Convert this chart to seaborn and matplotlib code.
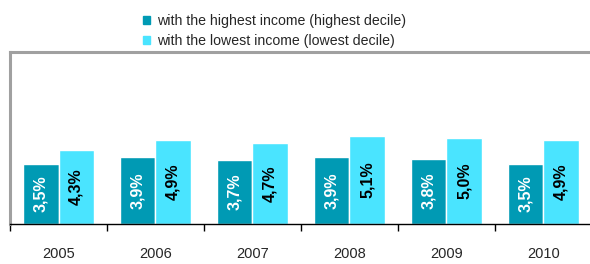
import numpy as np
import matplotlib
matplotlib.use("Agg")
import matplotlib.pyplot as plt
import pandas as pd
import seaborn as sns

YEARS = ["2005", "2006", "2007", "2008", "2009", "2010"]
HIGHEST = [3.5, 3.9, 3.7, 3.9, 3.8, 3.5]
LOWEST = [4.3, 4.9, 4.7, 5.1, 5.0, 4.9]
SERIES = ["with the highest income (highest decile)",
          "with the lowest income (lowest decile)"]
COLORS = ["#009AB4", "#4AE4FF"]

df = pd.DataFrame({
    "year": YEARS * 2,
    "value": HIGHEST + LOWEST,
    "series": [SERIES[0]] * len(YEARS) + [SERIES[1]] * len(YEARS),
})

sns.set_theme(style="white")
plt.rcParams["font.family"] = ["Liberation Sans", "DejaVu Sans"]

fig = plt.figure(figsize=(5.9, 2.64), dpi=100)
ax = fig.add_axes([0.017, 0.152, 0.986, 0.651])

sns.barplot(data=df, x="year", y="value", hue="series", palette=COLORS,
            width=0.73, gap=0, saturation=1, ax=ax, legend=False)

for i, cont in enumerate(ax.containers):
    labels = [f"{v:.1f}%".replace(".", ",") for v in cont.datavalues]
    ax.bar_label(cont, labels=labels, label_type="center", rotation=90,
                 fontsize=11.5, fontweight="bold",
                 color="white" if i == 0 else "black")

ax.set_ylim(0, 10)
ax.set_xlim(-0.5, 5.5)
ax.set_yticks([])
ax.set_xlabel("")
ax.set_ylabel("")
ax.set_xticks(np.arange(len(YEARS)))
ax.set_xticklabels(YEARS, fontsize=10.5)
ax.tick_params(axis="x", which="major", length=0, pad=17)
ax.set_xticks(np.arange(-0.5, len(YEARS), 1), minor=True)
ax.tick_params(axis="x", which="minor", length=5, width=1, color="black",
               bottom=True, direction="out")

for side in ["top", "left"]:
    ax.spines[side].set_color("#A0A0A0")
    ax.spines[side].set_linewidth(2.2)
ax.spines["right"].set_visible(False)
ax.spines["bottom"].set_color("black")
ax.spines["bottom"].set_linewidth(1)

handles = [plt.Rectangle((0, 0), 1, 1, color=c) for c in COLORS]
fig.legend(handles, SERIES, loc="upper left", bbox_to_anchor=(0.228, 0.98),
           frameon=False, fontsize=10.2, handlelength=0.5, handleheight=0.5,
           handletextpad=0.5, labelspacing=0.42, borderaxespad=0.2)

fig.savefig("out.png", dpi=100)
